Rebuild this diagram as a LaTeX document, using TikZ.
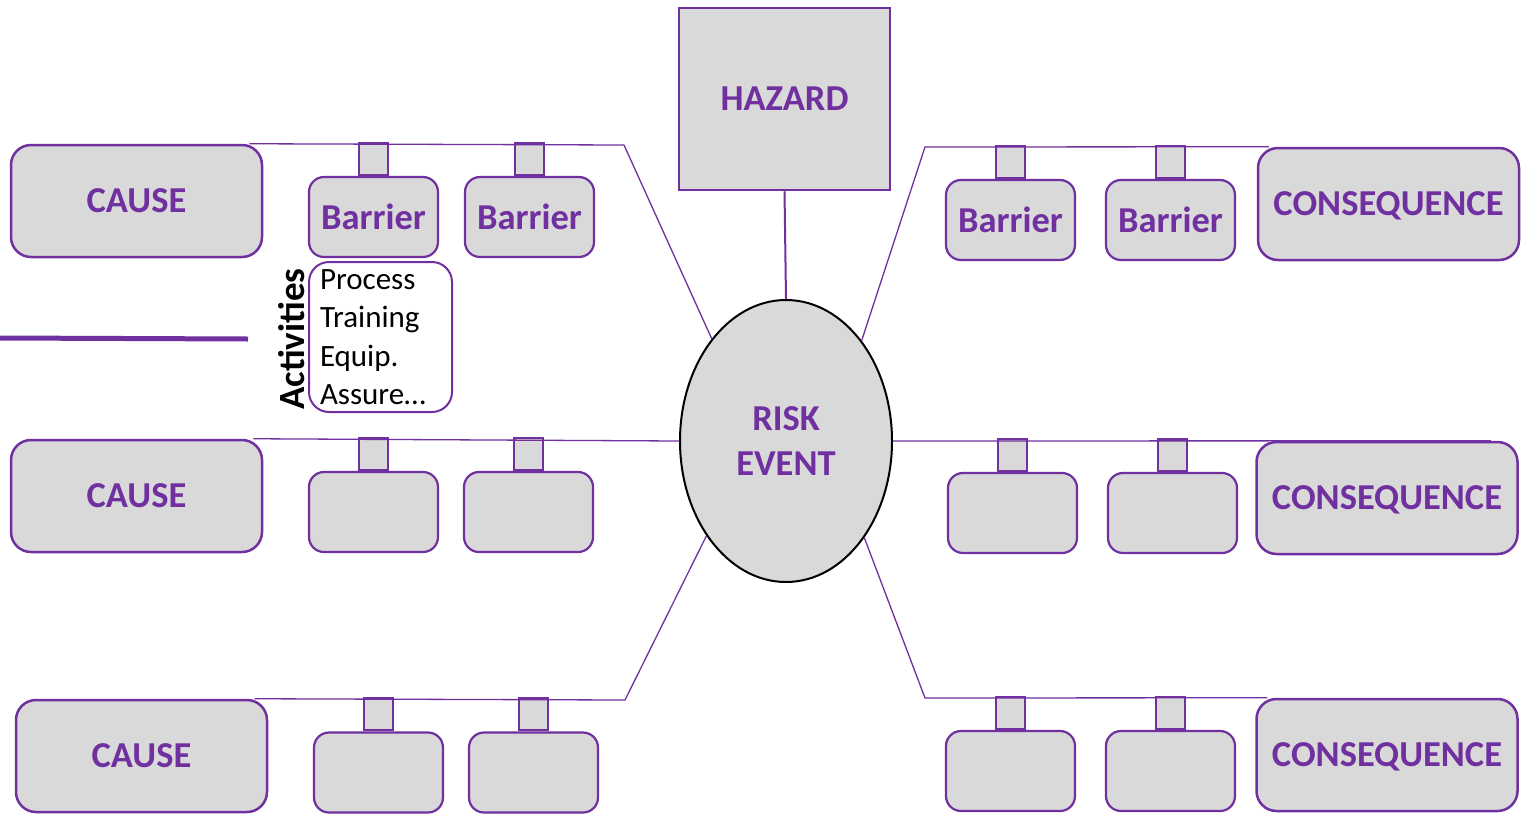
\documentclass[tikz,border=0pt]{standalone}
\usepackage{fontspec}
\setmainfont{Carlito}
\usetikzlibrary{positioning, shapes.geometric}

\definecolor{bowpurple}{HTML}{7030A0}
\definecolor{bowgray}{HTML}{D9D9D9}
\newcommand\bigbold{\fontsize{36.5}{45}\selectfont\bfseries}

\tikzset{
  causebox/.style={draw=bowpurple, fill=bowgray, line width=2.5pt, rounded corners=20pt,
    minimum width=251pt, minimum height=112pt, text=bowpurple, font=\bigbold},
  conseqbox/.style={causebox, minimum width=261pt, text depth=0pt},
  barrier/.style={draw=bowpurple, fill=bowgray, line width=2.2pt, rounded corners=15pt,
    minimum width=129pt, minimum height=80pt, inner sep=4pt, text=bowpurple, font=\bigbold},
  bartab/.style={draw=bowpurple, fill=bowgray, line width=2pt, minimum width=29pt,
    minimum height=32pt, inner sep=0pt},
  hazardbox/.style={draw=bowpurple, fill=bowgray, line width=2.5pt, minimum width=211pt,
    minimum height=182pt, text=bowpurple, font=\bigbold},
  riskevent/.style={ellipse, draw=black, fill=bowgray, line width=2pt, minimum width=212pt,
    minimum height=282pt, text=bowpurple, font=\bigbold, align=center},
  actbox/.style={draw=bowpurple, fill=white, line width=2pt, rounded corners=20pt,
    minimum width=143pt, minimum height=150pt, inner xsep=10pt, inner ysep=2pt,
    text width=121pt, align=left, font=\fontsize{31}{38.5}\selectfont},
  link/.style={draw=bowpurple, line width=1.3pt}
}

\begin{document}
\begin{tikzpicture}[x=1pt, y=-1pt]
\useasboundingbox (0,0) rectangle (1528,814);

% Hazard and risk event
\node[hazardbox] (hazard) at (784.5,99) {HAZARD};
\node[riskevent] (risk) at (786,441) {RISK\\EVENT};
\draw[link, line width=2pt] (hazard.south) -- (risk.north);

% Causes
\node[causebox] (cause1) at (136.5,201) {CAUSE};
\node[causebox] (cause2) at (136.5,496) {CAUSE};
\node[causebox] (cause3) at (141.5,756) {CAUSE};

% Consequences
\node[conseqbox] (conseq1) at (1388.5,204) {CONSEQUENCE};
\node[conseqbox] (conseq2) at (1387,498) {CONSEQUENCE};
\node[conseqbox] (conseq3) at (1387,755) {CONSEQUENCE};

% Barriers, cause side
\node[barrier] (b11) at (373.5,217) {Barrier};
\node[barrier] (b12) at (529.5,217) {Barrier};
\node[barrier] (b21) at (373.5,512) {};
\node[barrier] (b22) at (528.5,512) {};
\node[barrier] (b31) at (378.5,772.5) {};
\node[barrier] (b32) at (533.5,772.5) {};

% Barriers, consequence side
\node[barrier] (r11) at (1010.5,220) {Barrier};
\node[barrier] (r12) at (1170.5,220) {Barrier};
\node[barrier] (r21) at (1012.5,513) {};
\node[barrier] (r22) at (1172.5,513) {};
\node[barrier] (r31) at (1010.5,771) {};
\node[barrier] (r32) at (1170.5,771) {};

% Tabs on the barriers
\foreach \b in {b11,b12,b21,b22,b31,b32,r11,r12,r21,r22,r31,r32}
  \node[bartab, above=0pt of \b] (t\b) {};

% Activities
\node[actbox] (act) at (380.5,337) {Process\\Training\\Equip.\\Assure…};
\node[rotate=90, font=\fontsize{37}{40}\selectfont\bfseries] (actlabel) at (292,339) {Activities};

% Lines to the risk event
\coordinate (k1) at (624,145);
\coordinate (k2) at (925,147);
\coordinate (k3) at (625,700);
\coordinate (k4) at (925,698);
\draw[link] ([xshift=-14pt]cause1.north east) -- (k1) -- (risk.126);
\draw[link] ([xshift=-10pt]cause2.north east) -- (risk.west);
\draw[link] ([xshift=-14pt]cause3.north east) -- (k3) -- (risk.230);
\draw[link] (risk.53) -- (k2) -- ([xshift=12pt]conseq1.north west);
\draw[link] (risk.east) -- ([xshift=-28pt]conseq2.north east);
\draw[link] (risk.309) -- (k4) -- ([xshift=12pt]conseq3.north west);

% Stray bar
\coordinate (s1) at (0,338);
\coordinate (s2) at (248,339);
\draw[bowpurple, line width=5pt] (s1) -- (s2);
\end{tikzpicture}
\end{document}
